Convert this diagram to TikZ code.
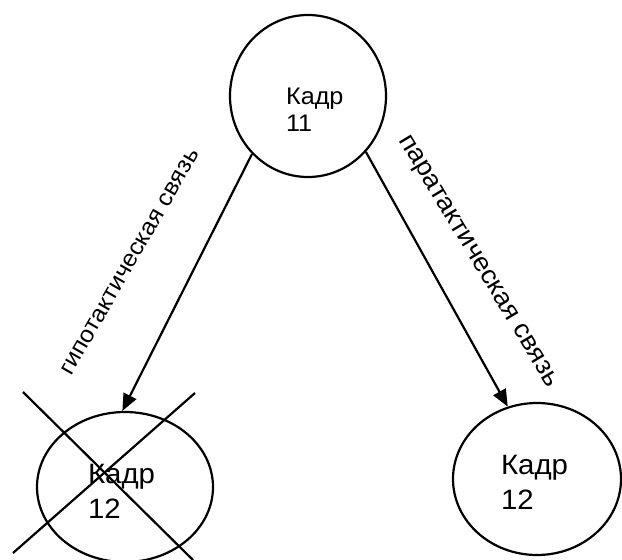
\documentclass[tikz,border=0pt]{standalone}
\usepackage{fontspec}
\setmainfont{Liberation Sans}[FakeStretch=1.05]
\usetikzlibrary{shapes.geometric,arrows.meta}
\begin{document}
\begin{tikzpicture}[x=1pt,y=-1pt,line width=2.2pt,
  frame/.style={draw,ellipse,inner sep=0pt},
  caption/.style={anchor=north west,inner sep=0pt,align=left},
  link/.style={-{Triangle[length=17pt,width=14pt]}},
  relation/.style={inner sep=0pt,font=\fontsize{#1}{30}\selectfont}]
  \useasboundingbox (0,0) rectangle (622,560);
  \node[frame,minimum width=156pt,minimum height=162pt] (k11) at (308,96) {};
  \node[frame,minimum width=176pt,minimum height=150pt] (k12a) at (125,487) {};
  \node[frame,minimum width=168pt,minimum height=152pt] (k12b) at (537,479) {};
  \node[caption,font=\fontsize{24}{27}\selectfont] (t11) at (285,87) {Кадр\\11};
  \node[caption,font=\fontsize{28}{35}\selectfont] (t12a) at (87,463) {Кадр\\12};
  \node[caption,font=\fontsize{28}{35}\selectfont] (t12b) at (500,454) {Кадр\\12};
  \draw[link] (k11.226) -- (k12a.92);
  \draw[link] (k11.316) -- (k12b.112);
  \node[relation=23.5,rotate=60] (hypo) at (130,262) {гипотактическая связь};
  \node[relation=26,rotate=-59] (para) at (477,262) {паратактическая связь};
  \draw (23,392) -- (193,560);
  \draw (195,393) -- (13,553);
\end{tikzpicture}
\end{document}
